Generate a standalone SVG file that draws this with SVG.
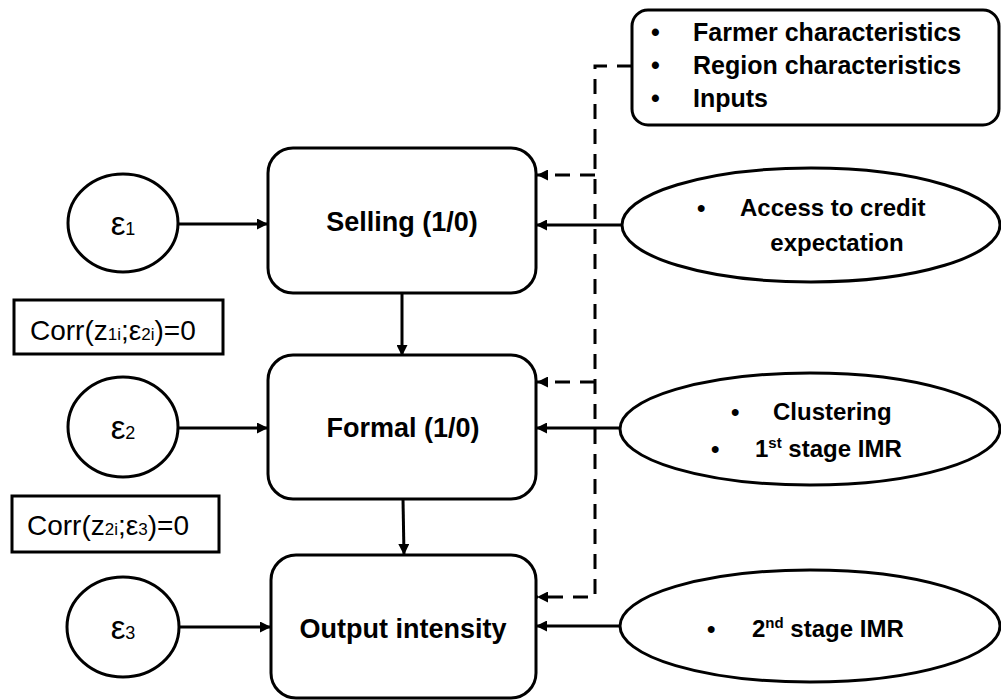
<svg xmlns="http://www.w3.org/2000/svg" width="1001" height="700" viewBox="0 0 1001 700">
<style>
.shape{fill:#fff;stroke:#000;stroke-width:3}
.conn{fill:none;stroke:#000;stroke-width:3}
.dash{fill:none;stroke:#000;stroke-width:3;stroke-dasharray:15 10}
.lbl{font-family:"Liberation Sans",Arial,sans-serif;font-weight:bold;fill:#000}
.eps{font-family:"Liberation Sans",Arial,sans-serif;fill:#000}
</style>
<defs>
<marker id="arr" viewBox="0 0 10 10" refX="10" refY="5" markerWidth="11" markerHeight="11" markerUnits="userSpaceOnUse" orient="auto">
<path d="M0,0 L10,5 L0,10 z" fill="#000"/>
</marker>
</defs>
<g id="connectors">
<line class="conn" x1="179" y1="224" x2="268" y2="224" marker-end="url(#arr)"/>
<line class="conn" x1="179" y1="428" x2="268" y2="428" marker-end="url(#arr)"/>
<line class="conn" x1="179" y1="627" x2="271" y2="627" marker-end="url(#arr)"/>
<line class="conn" x1="402" y1="293" x2="402" y2="356" marker-end="url(#arr)"/>
<line class="conn" x1="403" y1="499" x2="404" y2="555" marker-end="url(#arr)"/>
<line class="conn" x1="622" y1="225" x2="536" y2="225" marker-end="url(#arr)"/>
<line class="conn" x1="620" y1="428" x2="536" y2="428" marker-end="url(#arr)"/>
<line class="conn" x1="620" y1="626" x2="536" y2="626" marker-end="url(#arr)"/>
<path class="dash" d="M632,66 H595 V597 H537" marker-end="url(#arr)"/>
<path class="dash" d="M595,175 H537" marker-end="url(#arr)"/>
<path class="dash" d="M595,382 H537" marker-end="url(#arr)"/>
</g>
<g id="factors">
<rect class="shape" x="632" y="10" width="367" height="115" rx="16"/>
<text class="lbl" font-size="25"><tspan x="651" y="41">•</tspan><tspan x="693" y="41">Farmer characteristics</tspan></text>
<text class="lbl" font-size="25"><tspan x="651" y="74">•</tspan><tspan x="693" y="74">Region characteristics</tspan></text>
<text class="lbl" font-size="25"><tspan x="651" y="107">•</tspan><tspan x="693" y="107">Inputs</tspan></text>
</g>
<g id="eps1">
<ellipse class="shape" cx="123" cy="223" rx="55" ry="49"/>
<text class="eps" x="123" y="235" text-anchor="middle" font-size="33">ε<tspan font-size="18">1</tspan></text>
</g>
<g id="eps2">
<ellipse class="shape" cx="123" cy="427" rx="55" ry="50"/>
<text class="eps" x="123" y="439" text-anchor="middle" font-size="33">ε<tspan font-size="18">2</tspan></text>
</g>
<g id="eps3">
<ellipse class="shape" cx="123" cy="627" rx="56" ry="50"/>
<text class="eps" x="123" y="639" text-anchor="middle" font-size="33">ε<tspan font-size="18">3</tspan></text>
</g>
<g id="selling">
<rect class="shape" x="268" y="148" width="268" height="145" rx="25"/>
<text class="lbl" x="402" y="231" text-anchor="middle" font-size="27">Selling (1/0)</text>
</g>
<g id="formal">
<rect class="shape" x="268" y="355" width="268" height="144" rx="25"/>
<text class="lbl" x="403" y="437" text-anchor="middle" font-size="27">Formal (1/0)</text>
</g>
<g id="output">
<rect class="shape" x="271" y="555" width="265" height="143" rx="25"/>
<text class="lbl" x="403" y="638" text-anchor="middle" font-size="27">Output intensity</text>
</g>
<g id="corr1">
<rect class="shape" x="14" y="300" width="209" height="54"/>
<text class="eps" x="30" y="340" font-size="28">Corr(z<tspan font-size="17">1i</tspan>;ε<tspan font-size="17">2i</tspan>)=0</text>
</g>
<g id="corr2">
<rect class="shape" x="12" y="496" width="207" height="56"/>
<text class="eps" x="27" y="535" font-size="28">Corr(z<tspan font-size="17">2i</tspan>;ε<tspan font-size="17">3</tspan>)=0</text>
</g>
<g id="credit">
<ellipse class="shape" cx="811" cy="225" rx="189" ry="57"/>
<text class="lbl" font-size="24"><tspan x="697" y="216">•</tspan><tspan x="740" y="216">Access to credit</tspan></text>
<text class="lbl" x="837" y="251" text-anchor="middle" font-size="24">expectation</text>
</g>
<g id="cluster">
<ellipse class="shape" cx="810" cy="429" rx="190" ry="56"/>
<text class="lbl" font-size="24"><tspan x="731" y="420">•</tspan><tspan x="773" y="420">Clustering</tspan></text>
<text class="lbl" font-size="24"><tspan x="711" y="457">•</tspan><tspan x="755" y="457">1<tspan font-size="15" dy="-9">st</tspan><tspan dy="9"> stage IMR</tspan></tspan></text>
</g>
<g id="imr2">
<ellipse class="shape" cx="810" cy="626" rx="190" ry="56"/>
<text class="lbl" font-size="24"><tspan x="707" y="637">•</tspan><tspan x="752" y="637">2<tspan font-size="15" dy="-9">nd</tspan><tspan dy="9"> stage IMR</tspan></tspan></text>
</g>
</svg>
